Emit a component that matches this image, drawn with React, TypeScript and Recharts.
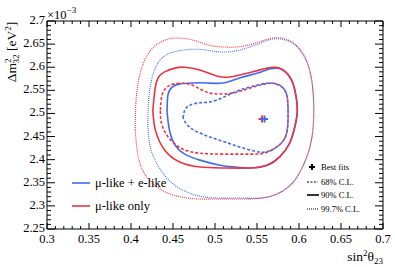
import { ComposedChart, Line, Scatter, XAxis, YAxis } from 'recharts';

const SIN2_MAJOR = [0.3, 0.35, 0.4, 0.45, 0.5, 0.55, 0.6, 0.65, 0.7];
const DM2_MAJOR = [2.25, 2.3, 2.35, 2.4, 2.45, 2.5, 2.55, 2.6, 2.65, 2.7];

// contours: [sin2theta23, dm2_32 (x1e-3)]
const MUE_68: [number, number][] = [
  [0.462, 2.490], [0.464, 2.507], [0.470, 2.518], [0.482, 2.523], [0.494, 2.525],
  [0.510, 2.535], [0.530, 2.551], [0.550, 2.561], [0.565, 2.566], [0.576, 2.561],
  [0.582, 2.553], [0.586, 2.535], [0.587, 2.501], [0.586, 2.464], [0.579, 2.436],
  [0.563, 2.418], [0.548, 2.418], [0.530, 2.427], [0.512, 2.438], [0.494, 2.449],
  [0.479, 2.460], [0.468, 2.473],
];
const MU_68: [number, number][] = [
  [0.435, 2.507], [0.437, 2.540], [0.443, 2.557], [0.452, 2.564], [0.468, 2.564],
  [0.482, 2.553], [0.494, 2.544], [0.506, 2.542], [0.521, 2.544], [0.542, 2.555],
  [0.560, 2.564], [0.574, 2.564], [0.582, 2.553], [0.586, 2.535], [0.587, 2.501],
  [0.586, 2.464], [0.579, 2.436], [0.562, 2.416], [0.542, 2.412], [0.510, 2.412],
  [0.482, 2.414], [0.464, 2.421], [0.452, 2.434], [0.442, 2.455], [0.436, 2.481],
];
const MUE_90: [number, number][] = [
  [0.443, 2.503], [0.444, 2.540], [0.449, 2.557], [0.458, 2.564], [0.473, 2.566],
  [0.490, 2.566], [0.510, 2.566], [0.530, 2.577], [0.550, 2.587], [0.565, 2.596],
  [0.579, 2.596], [0.589, 2.579], [0.595, 2.551], [0.598, 2.507], [0.595, 2.471],
  [0.589, 2.436], [0.577, 2.406], [0.562, 2.388], [0.542, 2.382], [0.524, 2.384],
  [0.506, 2.388], [0.482, 2.399], [0.464, 2.412], [0.453, 2.430], [0.446, 2.462],
];
const MU_90: [number, number][] = [
  [0.426, 2.507], [0.429, 2.557], [0.433, 2.579], [0.440, 2.590], [0.452, 2.598],
  [0.464, 2.600], [0.482, 2.594], [0.502, 2.581], [0.518, 2.579], [0.538, 2.587],
  [0.562, 2.598], [0.577, 2.598], [0.589, 2.579], [0.595, 2.551], [0.598, 2.507],
  [0.595, 2.471], [0.589, 2.436], [0.577, 2.406], [0.562, 2.388], [0.542, 2.382],
  [0.510, 2.382], [0.482, 2.384], [0.458, 2.395], [0.440, 2.421], [0.429, 2.464],
];
const MUE_997: [number, number][] = [
  [0.420, 2.475], [0.421, 2.529], [0.426, 2.583], [0.437, 2.620], [0.455, 2.635],
  [0.479, 2.639], [0.496, 2.635], [0.514, 2.633], [0.533, 2.639], [0.554, 2.652],
  [0.568, 2.661], [0.587, 2.657], [0.602, 2.635], [0.612, 2.598], [0.617, 2.540],
  [0.617, 2.475], [0.612, 2.421], [0.601, 2.373], [0.586, 2.339], [0.562, 2.319],
  [0.533, 2.317], [0.504, 2.317], [0.482, 2.321], [0.464, 2.332], [0.446, 2.354],
  [0.432, 2.388], [0.423, 2.427],
];
const MU_997: [number, number][] = [
  [0.405, 2.464], [0.406, 2.529], [0.411, 2.587], [0.421, 2.631], [0.436, 2.655],
  [0.452, 2.663], [0.473, 2.659], [0.492, 2.648], [0.508, 2.644], [0.527, 2.644],
  [0.548, 2.652], [0.568, 2.663], [0.587, 2.659], [0.602, 2.637], [0.612, 2.598],
  [0.617, 2.540], [0.617, 2.475], [0.612, 2.421], [0.601, 2.373], [0.586, 2.339],
  [0.562, 2.319], [0.533, 2.315], [0.504, 2.315], [0.479, 2.315], [0.455, 2.321],
  [0.435, 2.336], [0.419, 2.362], [0.409, 2.403],
];
const BEST_MU: [number, number][] = [[0.556, 2.488]];
const BEST_MUE: [number, number][] = [[0.559, 2.488]];

const RED = '#ee3340';
const BLUE = '#3d6df2';
const FONT = "'Liberation Serif', 'Times New Roman', Times, 'DejaVu Serif', serif";
const txt = (size: number) => ({ fontFamily: FONT, fontSize: size });

const closed = (pts: [number, number][]) => [...pts, pts[0]].map(([s, d]) => ({ s, d }));
const asObj = (pts: [number, number][]) => pts.map(([s, d]) => ({ s, d }));

const steps = (lo: number, hi: number, step: number) => {
  const out: number[] = [];
  for (let v = lo; v <= hi + 1e-9; v += step) out.push(Math.round(v * 1000) / 1000);
  return out;
};
const X_TICKS = steps(0.3, 0.7, 0.01);
const Y_TICKS = steps(2.25, 2.7, 0.01);

const isMajor = (v: number, majors: number[]) => majors.some((m) => Math.abs(m - v) < 1e-6);
const fmt = (v: number) => String(parseFloat(v.toFixed(2)));

const BottomTick = ({ x, y, payload }: any) => {
  const major = isMajor(payload.value, SIN2_MAJOR);
  return (
    <g>
      <line x1={x} x2={x} y1={y} y2={y - (major ? 6 : 3)} stroke="#000" />
      {major && (
        <text x={x} y={y + 14} textAnchor="middle" style={txt(12.5)} fill="#000">
          {fmt(payload.value)}
        </text>
      )}
    </g>
  );
};
const TopTick = ({ x, y, payload }: any) => {
  const major = isMajor(payload.value, SIN2_MAJOR);
  return <line x1={x} x2={x} y1={y} y2={y + (major ? 6 : 3)} stroke="#000" />;
};
const LeftTick = ({ x, y, payload }: any) => {
  const major = isMajor(payload.value, DM2_MAJOR);
  return (
    <g>
      <line x1={x} x2={x + (major ? 8 : 4)} y1={y} y2={y} stroke="#000" />
      {major && (
        <text x={x - 2} y={y + 3} textAnchor="end" style={txt(12.5)} fill="#000">
          {fmt(payload.value)}
        </text>
      )}
    </g>
  );
};
const RightTick = ({ x, y, payload }: any) => {
  const major = isMajor(payload.value, DM2_MAJOR);
  return <line x1={x} x2={x - (major ? 8 : 4)} y1={y} y2={y} stroke="#000" />;
};

const Star = (color: string) => (props: any) => {
  const { cx, cy } = props;
  return (
    <path
      d={`M${cx - 3.5},${cy} L${cx + 3.5},${cy} M${cx},${cy - 3.5} L${cx},${cy + 3.5}`}
      stroke={color}
      strokeWidth={2}
    />
  );
};

const contour = (key: string, pts: [number, number][], color: string, width: number, dash?: string) => (
  <Line
    key={key}
    xAxisId="b"
    yAxisId="l"
    data={closed(pts)}
    dataKey="d"
    type="natural"
    stroke={color}
    strokeWidth={width}
    strokeDasharray={dash}
    dot={false}
    activeDot={false}
    isAnimationActive={false}
  />
);

export default function App() {
  return (
    <div style={{ position: 'absolute', left: 0, top: 0, width: 395, height: 267, background: '#fff' }}>
      <ComposedChart width={395} height={267} margin={{ top: 20, right: 11, bottom: 8, left: 7 }}>
        <XAxis
          xAxisId="b"
          dataKey="s"
          type="number"
          domain={[0.3, 0.7]}
          ticks={X_TICKS}
          interval={0}
          allowDataOverflow
          height={30}
          tickSize={0}
          tickMargin={0}
          tickLine={false}
          axisLine={{ stroke: '#000' }}
          tick={<BottomTick />}
        />
        <XAxis
          xAxisId="t"
          orientation="top"
          dataKey="s"
          type="number"
          domain={[0.3, 0.7]}
          ticks={X_TICKS}
          interval={0}
          allowDataOverflow
          height={1}
          tickSize={0}
          tickMargin={0}
          tickLine={false}
          axisLine={{ stroke: '#000' }}
          tick={<TopTick />}
        />
        <YAxis
          yAxisId="l"
          dataKey="d"
          type="number"
          domain={[2.25, 2.7]}
          ticks={Y_TICKS}
          interval={0}
          allowDataOverflow
          width={40}
          tickSize={0}
          tickMargin={0}
          tickLine={false}
          axisLine={{ stroke: '#000' }}
          tick={<LeftTick />}
        />
        <YAxis
          yAxisId="r"
          orientation="right"
          dataKey="d"
          type="number"
          domain={[2.25, 2.7]}
          ticks={Y_TICKS}
          interval={0}
          allowDataOverflow
          width={1}
          tickSize={0}
          tickMargin={0}
          tickLine={false}
          axisLine={{ stroke: '#000' }}
          tick={<RightTick />}
        />
        {contour('mue997', MUE_997, BLUE, 1.1, '1 1')}
        {contour('mu997', MU_997, RED, 1.1, '1 1')}
        {contour('mue90', MUE_90, BLUE, 1.6)}
        {contour('mu90', MU_90, RED, 1.6)}
        {contour('mu68', MU_68, RED, 1.6, '3 2')}
        {contour('mue68', MUE_68, BLUE, 1.6, '3 2')}
        <Scatter xAxisId="b" yAxisId="l" data={asObj(BEST_MU)} dataKey="d" shape={Star(RED)} isAnimationActive={false} />
        <Scatter xAxisId="b" yAxisId="l" data={asObj(BEST_MUE)} dataKey="d" shape={Star(BLUE)} isAnimationActive={false} />
      </ComposedChart>
      <svg width={395} height={267} style={{ position: 'absolute', left: 0, top: 0, pointerEvents: 'none' }}>
        <g fill="#000">
          <text x={47} y={19} style={txt(12.5)}>
            ×10<tspan style={txt(9)} dy={-6}>−3</tspan>
          </text>
          <text transform="translate(16,52) rotate(-90)" textAnchor="middle" style={txt(13.5)}>
            Δm<tspan style={txt(9)} dy={-5}>2</tspan>
            <tspan style={txt(9)} dx={-5} dy={8}>32</tspan>
            <tspan dy={-3}> [eV</tspan>
            <tspan style={txt(9)} dy={-5}>2</tspan>
            <tspan dy={5}>]</tspan>
          </text>
          <text x={383} y={261} textAnchor="end" style={txt(13.5)}>
            sin<tspan style={txt(9)} dy={-5}>2</tspan>
            <tspan dy={5}>θ</tspan>
            <tspan style={txt(9)} dy={3}>23</tspan>
          </text>
          <line x1={72} x2={90} y1={183} y2={183} stroke={BLUE} strokeWidth={1.6} />
          <text x={95} y={187} style={txt(12.5)}>μ-like + e-like</text>
          <line x1={72} x2={90} y1={206} y2={206} stroke={RED} strokeWidth={1.6} />
          <text x={95} y={210} style={txt(12.5)}>μ-like only</text>
          <path d="M309,167 L315,167 M312,164 L312,170" stroke="#000" strokeWidth={2} />
          <text x={321} y={170} style={txt(8.5)}>Best fits</text>
          <line x1={307} x2={318} y1={182} y2={182} stroke="#000" strokeWidth={1.2} strokeDasharray="2 1.5" />
          <text x={321} y={185} style={txt(8.5)}>68% C.L.</text>
          <line x1={307} x2={319} y1={195} y2={195} stroke="#000" strokeWidth={1.6} />
          <text x={321} y={198} style={txt(8.5)}>90% C.L.</text>
          <line x1={307} x2={319} y1={209} y2={209} stroke="#000" strokeWidth={1} strokeDasharray="1 1" />
          <text x={321} y={212} style={txt(8.5)}>99.7% C.L.</text>
        </g>
      </svg>
    </div>
  );
}
